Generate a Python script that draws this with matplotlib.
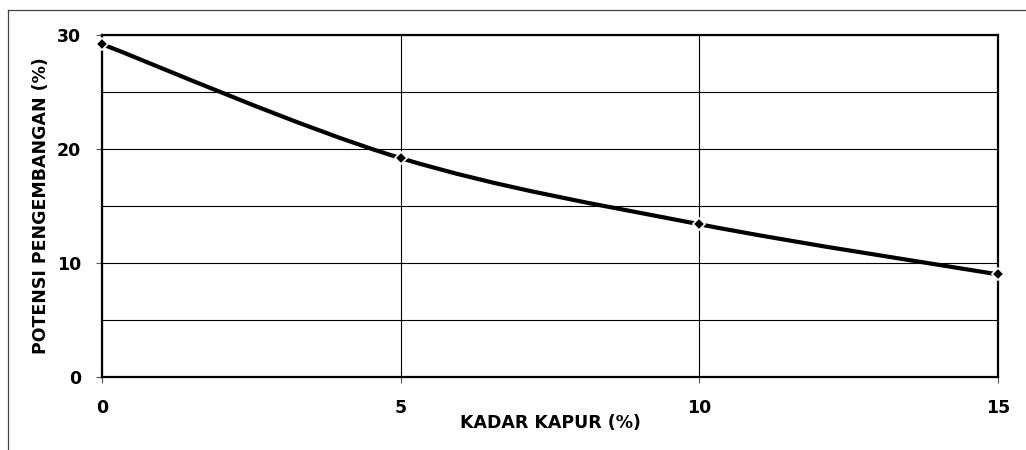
import matplotlib.pyplot as plt
from matplotlib.lines import Line2D
from matplotlib.patches import PathPatch
from matplotlib.path import Path as mpPath
from matplotlib.ticker import MultipleLocator

# Data
kadar_kapur = [0, 5, 10, 15]            # %
potensi = [29.2, 19.2, 13.4, 9.0]       # %

x_label = "KADAR KAPUR (%)"
y_label = "POTENSI PENGEMBANGAN (%)"


def smooth_path(xs, ys):
    """Bezier path through the points, like a spreadsheet 'smoothed line'."""
    pts = list(zip(xs, ys))
    verts = [pts[0]]
    codes = [mpPath.MOVETO]
    n = len(pts)
    for i in range(n - 1):
        p0 = pts[max(i - 1, 0)]
        p1 = pts[i]
        p2 = pts[i + 1]
        p3 = pts[min(i + 2, n - 1)]
        c1 = (p1[0] + (p2[0] - p0[0]) / 6, p1[1] + (p2[1] - p0[1]) / 6)
        c2 = (p2[0] - (p3[0] - p1[0]) / 6, p2[1] - (p3[1] - p1[1]) / 6)
        verts += [c1, c2, p2]
        codes += [mpPath.CURVE4] * 3
    return mpPath(verts, codes)


plt.rcParams["font.family"] = ["DejaVu Sans"]
plt.rcParams["font.weight"] = "bold"
plt.rcParams["axes.labelweight"] = "bold"

fig = plt.figure(figsize=(10.26, 4.5), dpi=100)
fig.patch.set_facecolor("white")

# partial outer frame (left and top)
fig.add_artist(Line2D([8 / 1026, 8 / 1026], [0, 1 - 10 / 450],
                      transform=fig.transFigure, color="#444444", lw=0.9))
fig.add_artist(Line2D([8 / 1026, 1], [1 - 10 / 450, 1 - 10 / 450],
                      transform=fig.transFigure, color="#444444", lw=0.9))

ax = fig.add_axes([102 / 1026, 1 - 377 / 450, 896 / 1026, 342 / 450])

ax.set_xlim(0, 15)
ax.set_ylim(0, 30)
ax.xaxis.set_major_locator(MultipleLocator(5))
ax.yaxis.set_major_locator(MultipleLocator(10))
ax.yaxis.set_minor_locator(MultipleLocator(5))

ax.grid(True, which="major", color="black", lw=0.8)
ax.grid(True, which="minor", axis="y", color="black", lw=0.8)
ax.set_axisbelow(True)

for sp in ax.spines.values():
    sp.set_linewidth(1.6)
    sp.set_color("black")

ax.tick_params(axis="both", which="major", direction="out", length=4,
               width=0.8, color="#555555", labelsize=12.5)
ax.tick_params(axis="y", which="major", pad=11)
ax.tick_params(axis="x", which="major", pad=12)
ax.tick_params(axis="both", which="minor", length=0)

ax.add_patch(PathPatch(smooth_path(kadar_kapur, potensi), fill=False,
                       lw=3, edgecolor="black", capstyle="round",
                       joinstyle="round", zorder=3))
ax.plot(kadar_kapur, potensi, linestyle="none", marker="D", markersize=6,
        markerfacecolor="black", markeredgecolor="white",
        markeredgewidth=1.2, zorder=4, clip_on=False)

ax.set_xlabel(x_label, fontsize=12.5, labelpad=-2)
ax.set_ylabel(y_label, fontsize=12.5, labelpad=5)

fig.savefig("out.png", dpi=100)
